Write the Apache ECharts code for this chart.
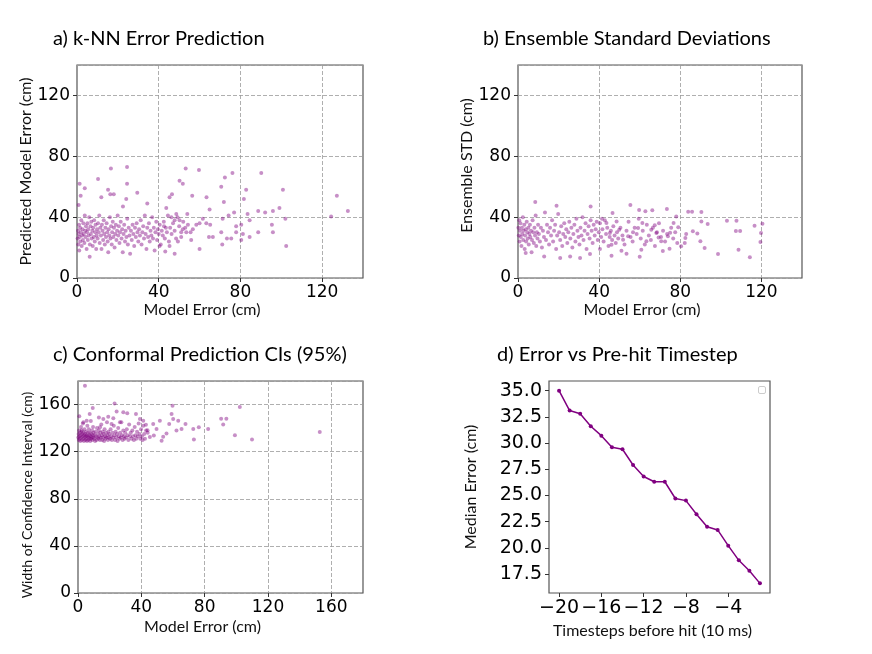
<!DOCTYPE html>
<html>
<head>
<meta charset="utf-8">
<script src="https://cdn.jsdelivr.net/npm/echarts@6/dist/echarts.min.js"></script>
<style>
  html, body { margin: 0; padding: 0; background: #fff; }
  #main { width: 872px; height: 654px; }
</style>
</head>
<body>
<div id="main"></div>
<script>
// a) k-NN: [model error, predicted error]
var knnPoints = [
  [0.3,26],[0.5,31],[0.6,22],[0.8,29],[1.0,35],[1.1,18],[1.3,27],[1.5,33],[1.6,24],[1.9,30],[2.1,38],[2.3,21],[2.5,28],[2.7,32],[2.9,25],[3.1,36],[3.3,29],[3.6,23],[3.8,41],[4.0,31],[4.2,27],[4.4,34],[4.7,19],[4.9,30],
  [5.1,36],[5.3,25],[5.5,32],[5.7,28],[6.0,40],[6.2,14],[6.3,22],[6.6,34],[6.8,29],[7.0,37],[7.2,26],[7.5,31],[7.7,21],[7.9,33],[8.2,27],[8.4,38],[8.7,24],[8.9,30],[9.1,35],[9.4,19],[9.6,28],[9.8,32],
  [10.1,26],[10.3,36],[10.6,30],[10.9,41],[11.1,23],[11.4,33],[11.7,28],[12.0,19],[12.2,35],[12.5,31],[12.8,25],[13.1,38],[13.3,29],[13.6,22],[13.9,33],[14.2,27],[14.5,36],[14.8,30],
  [15.0,24],[15.3,17],[15.5,32],[15.8,28],[16.1,40],[16.4,26],[16.7,34],[17.0,22],[17.2,30],[17.5,37],[17.8,27],[18.1,33],[18.4,20],[18.7,29],[19.0,35],[19.3,25],[19.6,31],[19.9,41],
  [20.2,28],[20.5,34],[20.8,23],[21.1,30],[21.4,37],[21.8,26],[22.1,32],[22.4,17],[22.8,29],[23.1,35],[23.5,24],[23.8,31],[24.2,27],[24.6,39],[24.9,22],
  [25.3,33],[25.7,28],[26.0,16],[26.4,31],[26.8,25],[27.2,35],[27.6,29],[28.0,21],[28.4,33],[28.8,27],[29.2,36],[29.6,30],
  [30.0,24],[30.4,32],[30.8,28],[31.2,38],[31.6,22],[32.0,30],[32.4,34],[32.8,26],[33.2,41],[33.6,29],[34.0,19],[34.4,33],[34.8,27],
  [35.2,36],[35.6,24],[36.0,31],[36.4,28],[36.8,40],[37.2,26],[37.6,33],[38.0,18],[38.4,30],[38.8,37],[39.2,25],[39.6,32],
  [40.0,29],[40.5,35],[41.0,22],[41.5,31],[42.0,28],[42.5,37],[43.0,26],[43.5,33],[44.0,30],[44.5,41],[45.0,24],
  [45.6,33],[46.3,29],[47.0,36],[47.8,31],[48.5,26],[49.2,40],[50.0,34],[51.0,30],[52.0,37],[53.0,33],[54.0,42],
  [1.3,62],[1.8,54],[0.8,48],[3.8,59],[10.3,65],[16.6,72],[24.5,73],[24.5,62],[15.2,58],[16.3,55],[18,55],[29.5,56],[24.1,52],[11.9,53],[34.4,49],[22.5,47],
  [53.2,72],[59.7,71],[50.2,64],[51.8,62],[45.3,53],[46.5,55],[56.4,54],[63.4,53],[72.4,66],[76.1,69],[70.6,60],[71.9,50],[81.7,52],[82.8,58],[90.2,69],
  [100.8,58],[99.1,46],[88.7,44],[92.1,43],[95.9,44],[83.5,42],[84.5,38],[102,39],[102.4,21],[95.4,35],[95.9,30],[88.7,30],[84.5,27],[81.2,29],[77.9,30],
  [77.9,34],[80.4,35],[76.9,43],[74.2,41],[71.3,39],[70.6,30],[71.1,22],[73.4,26],[75.5,26],[80.4,25],[124.4,40.5],[127.2,54],[132.6,44],
  [60,19],[55.6,30],[55.9,25],[56.7,32],[58.4,35],[60,36],[61.6,39],[63.3,36],[64.9,45],[65.2,35],[66.5,27],[64.6,27],
  [47.8,16],[43.2,17.5],[45.3,21],[40.4,21],[49.4,24],[51,27],[51.8,32],[53.5,30],[54.3,35],[50.2,38],[48.6,42],[43.7,46],[46.2,40],[47.8,38],[42.6,34]
];

// b) ensemble: [model error, ensemble std]
var ensPoints = [
  [0.2,33],[0.4,28],[0.6,38],[0.8,24],[1.0,31],[1.2,36],[1.4,27],[1.7,21],[1.9,33],[2.1,29],[2.4,40],[2.6,25],[2.8,31],[3.1,35],[3.3,19],[3.5,28],[3.8,32],[4.0,24],[4.3,37],[4.6,30],[4.8,26],
  [5.1,33],[5.3,22],[5.6,29],[5.9,35],[6.1,27],[6.4,31],[6.7,17],[6.9,25],[7.2,38],[7.5,30],[7.8,23],[8.1,33],[8.4,28],[8.7,41],[9.0,21],[9.3,30],[9.6,26],[9.9,35],
  [10.3,29],[10.8,24],[11.3,33],[11.8,20],[12.3,31],[12.8,27],[13.3,43],[13.8,25],[14.3,35],[14.8,30],[15.3,22],[15.8,33],[16.3,28],[16.8,38],[17.3,24],[17.8,31],[18.3,35],[18.8,19],[19.3,28],[19.8,42],
  [20.3,30],[20.8,25],[21.3,34],[21.8,21],[22.3,29],[22.8,36],[23.3,27],[23.8,32],[24.3,23],[24.8,30],[25.3,37],[25.8,26],[26.3,33],[26.8,20],[27.3,29],[27.8,35],[28.3,24],[28.8,39],[29.3,31],[29.8,27],
  [30.3,22],[30.8,33],[31.3,28],[31.8,40],[32.3,25],[32.8,31],[33.3,36],[33.8,19],[34.3,29],[34.8,34],[35.3,26],[35.8,38],[36.3,31],[36.8,23],[37.3,35],[37.8,28],[38.3,32],[38.8,37],[39.3,25],[39.8,30],
  [40.4,36],[41.0,27],[41.6,32],[42.2,24],[42.8,38],[43.4,29],[44.0,33],[44.6,21],[45.2,27],[45.8,31],[46.4,25],[47.0,34],[47.6,28],[48.2,23],[48.8,30],[49.4,26],
  [50.5,33],[51.5,28],[52.5,22],[53.5,31],[54.5,37],[55.5,27],[56.5,24],[57.5,33],[58.5,29],[59.5,39],[60.5,26],[61.5,31],[62.5,22],[63.5,35],[64.5,28],[65.5,25],[66.5,33],[67.5,21],[68.5,30],[69.5,36],[70.5,27],[71.5,31],[72.5,24],[73.5,29],[75.5,33],[76.5,26],[77.5,30],[78.5,23],
  [8.5,50],[19,47.5],[35.8,47],[55.4,48],[59.7,44.7],[62.8,43.8],[66.2,44.5],[73.4,45.3],[83.9,43.6],[85.8,43.6],[90.4,43.4],[103,37.7],[107.7,37.7],[116.6,34.4],[120.5,35.7],[119.8,29.6],[119.5,23.6],
  [109.5,30.9],[107.4,30.9],[108.7,18.6],[114.3,13.6],[98.6,15.8],[92,19.7],[93.5,35.5],[90.4,37.2],[88.4,29.3],[89.9,24.1],[86.2,30.7],[82.9,28.9],[82.5,26.3],[82.2,23],[80.4,20.8],[79,33.3],[78,40.5],[76.7,36.1],
  [75,29.8],[73.9,27.4],[74.7,19.3],[71.4,17.7],[70.6,24.1],[69.3,26.7],[68.2,29.6],[67.4,34.6],[65.7,31.7],[63.3,24.1],[60,14],[60.8,18.6],[59.2,32.8],[61.3,36.1],[56.7,30],[54.3,27.4],[53.5,16],[51,17.9],
  [51.8,25.2],[49.9,31.7],[48.6,37.2],[46.6,42.7],[43.6,36.1],[45.3,29.6],[46.1,21.9],[46.1,14.7],[40.4,19],[41.4,39],[30.6,13.1],[25.7,14.2],[20.8,13.1],[12.9,14.2],[3.8,16.4],[35.5,15.8]
];

// c) conformal: [model error, CI width]
var confPoints = [
  [0.2,132],[0.4,135],[0.5,130],[0.7,138],[0.9,133],[1.1,131],[1.3,136],[1.5,129],[1.7,134],[1.9,141],[2.1,132],[2.3,137],[2.5,130],[2.7,135],[2.9,133],[3.1,144],[3.3,131],[3.5,136],[3.7,129],[3.9,134],[4.1,139],[4.3,132],[4.5,135],[4.7,130],[4.9,133],
  [5.1,137],[5.3,131],[5.5,134],[5.7,129],[5.9,142],[6.1,133],[6.3,136],[6.5,130],[6.7,132],[6.9,139],[7.1,134],[7.3,131],[7.5,136],[7.7,129],[7.9,133],[8.1,146],[8.3,131],[8.5,135],[8.7,132],[8.9,138],[9.1,130],[9.3,134],[9.5,141],[9.7,132],[9.9,136],
  [10.2,131],[10.5,134],[10.8,129],[11.1,137],[11.4,133],[11.7,130],[12.0,140],[12.3,132],[12.6,135],[12.9,131],[13.2,138],[13.5,133],[13.8,130],[14.1,136],[14.4,132],[14.7,143],[15.0,134],[15.3,130],[15.6,137],[15.9,132],[16.2,135],[16.5,129],[16.8,139],[17.1,133],[17.4,131],[17.7,136],[18.0,132],[18.3,145],[18.6,134],[18.9,130],[19.2,137],[19.5,132],[19.8,135],
  [20.2,131],[20.6,139],[21.0,133],[21.4,130],[21.8,136],[22.2,132],[22.6,142],[23.0,134],[23.4,130],[23.8,137],[24.2,132],[24.6,135],[25.0,129],[25.4,140],[25.8,133],[26.2,131],[26.6,136],[27.0,132],[27.4,145],[27.8,134],[28.2,130],[28.6,138],[29.0,133],[29.4,131],[29.8,136],
  [30.3,132],[30.8,139],[31.3,134],[31.8,130],[32.3,143],[32.8,133],[33.3,136],[33.8,131],[34.3,138],[34.8,133],[35.3,130],[35.8,141],[36.3,134],[36.8,131],[37.3,137],[37.8,133],[38.3,144],[38.8,135],[39.3,131],[39.8,139],[40.3,133],[40.8,130],[41.3,142],[41.8,135],[42.3,131],[43.0,138],[44.0,136],
  [4.4,176],[23.1,161],[9.3,157],[7.4,152],[0.8,150],[59.7,159],[102.2,158],[90.4,148],[93.7,148],[91.7,143],[99.1,134],[109.9,130.4],[152.7,136.6],[82.2,139.3],[76.3,140.7],[72.8,139.3],[73.2,130.4],
  [67.9,143.5],[65.4,139.3],[62.2,137.9],[63.3,146.3],[60.1,147.7],[59.1,152],[57.6,143.5],[53.8,132.6],[55.9,135.4],[52.8,129.2],[51.7,146.3],[49.6,139.3],[47.5,143.5],[47.9,133.7],[45.4,132.4],[43.9,138.2],
  [42.9,142.8],[41.2,146.3],[39.1,147.7],[36.6,152],[31.1,152.6],[28.6,153.4],[24.4,154],[22.3,148.3],[19.1,149.7],[16,147.7],[13.2,149.1],[21.2,143.5],[26.5,144.9],[13.9,140.7],[5.5,146.3],[3.4,144.9],[2.3,138.2]
];

// d) median error per timestep
var timesteps = [-20,-19,-18,-17,-16,-15,-14,-13,-12,-11,-10,-9,-8,-7,-6,-5,-4,-3,-2,-1];
var medianErr = [35.0,33.1,32.8,31.6,30.7,29.6,29.4,27.9,26.8,26.3,26.3,24.7,24.5,23.2,22.0,21.7,20.2,18.8,17.8,16.6];
var dXTicks = [-20,-16,-12,-8,-4];
var dYTicks = [17.5,20,22.5,25,27.5,30,32.5,35];

var purple = '#800080';
var dotColor = 'rgba(128,0,128,0.55)';
var titleFont = { fontFamily: 'Lato', fontSize: 20, fontWeight: 'normal', color: '#000' };

function tickFont(size) {
  return { fontFamily: 'DejaVu Sans', fontSize: size, color: '#000' };
}

// pad shifts the name along the axis (matplotlib labels sit a bit off centre here)
function nameFont(size, pad) {
  return { fontFamily: 'Lato', fontSize: size, color: '#111', padding: pad || 0 };
}

function splitDash() {
  return { show: true, lineStyle: { color: '#9a9a9a', width: 0.8, type: [4, 2] } };
}

// scatter axes: min 0, fixed max, ticks every 40
function valAxis(idx, max, name, gap, isY, size, pad) {
  return {
    type: 'value', gridIndex: idx, min: 0, max: max, interval: 40,
    name: name, nameLocation: 'middle', nameGap: gap,
    nameTextStyle: nameFont(size, pad),
    axisLine: { show: false },
    axisTick: { show: true, length: 4, lineStyle: { color: '#333' } },
    axisLabel: Object.assign({ margin: isY ? 7 : 6, showMaxLabel: false }, tickFont(17)),
    splitLine: splitDash()
  };
}

function withMinus(v) {
  return String(v).replace('-', '\u2212');
}

var gridBox = { show: true, borderColor: '#555', borderWidth: 1.2, backgroundColor: 'transparent' };

var option = {
  animation: false,
  title: [
    { text: 'a) k-NN Error Prediction', left: 48, top: 24, textStyle: titleFont },
    { text: 'b) Ensemble Standard Deviations', left: 478, top: 24, textStyle: titleFont },
    { text: 'c) Conformal Prediction CIs (95%)', left: 48, top: 340, textStyle: titleFont },
    { text: 'd) Error vs Pre-hit Timestep', left: 492, top: 340, textStyle: titleFont }
  ],
  grid: [
    Object.assign({ left: 77, top: 65, width: 286, height: 213 }, gridBox),
    Object.assign({ left: 518, top: 65, width: 284, height: 213 }, gridBox),
    Object.assign({ left: 78, top: 381, width: 285, height: 212 }, gridBox),
    Object.assign({ left: 549, top: 381, width: 221, height: 212 }, gridBox)
  ],
  xAxis: [
    valAxis(0, 140, 'Model Error (cm)', 24, false, 16, [0, 36, 0, 0]),
    valAxis(1, 140, 'Model Error (cm)', 24, false, 16, [0, 36, 0, 0]),
    valAxis(2, 180, 'Model Error (cm)', 26, false, 16, [0, 36, 0, 0]),
    {
      type: 'value', gridIndex: 3, min: -20.95, max: -0.05,
      name: 'Timesteps before hit (10 ms)', nameLocation: 'middle', nameGap: 30,
      nameTextStyle: nameFont(16, [0, 14, 0, 0]),
      axisLine: { show: false },
      axisTick: { show: true, length: 4, customValues: dXTicks, lineStyle: { color: '#333' } },
      axisLabel: Object.assign({ margin: 6, customValues: dXTicks, formatter: withMinus }, tickFont(19)),
      splitLine: { show: false }
    }
  ],
  yAxis: [
    valAxis(0, 140, 'Predicted Model Error (cm)', 38, true, 16),
    valAxis(1, 140, 'Ensemble STD (cm)', 38, true, 16, [0, 0, 0, 12]),
    valAxis(2, 180, 'Width of Confidence Interval (cm)', 41, true, 14, [0, 16, 0, 0]),
    {
      type: 'value', gridIndex: 3, min: 15.68, max: 35.92,
      name: 'Median Error (cm)', nameLocation: 'middle', nameGap: 70, nameTextStyle: nameFont(16),
      axisLine: { show: false },
      axisTick: { show: true, length: 4, customValues: dYTicks, lineStyle: { color: '#333' } },
      axisLabel: Object.assign({ margin: 7, customValues: dYTicks, formatter: function (v) { return v.toFixed(1); } }, tickFont(19)),
      splitLine: { show: false }
    }
  ],
  series: [
    { type: 'scatter', xAxisIndex: 0, yAxisIndex: 0, data: knnPoints, symbolSize: 4, itemStyle: { color: dotColor } },
    { type: 'scatter', xAxisIndex: 1, yAxisIndex: 1, data: ensPoints, symbolSize: 4, itemStyle: { color: dotColor } },
    { type: 'scatter', xAxisIndex: 2, yAxisIndex: 2, data: confPoints, symbolSize: 4, itemStyle: { color: dotColor } },
    {
      type: 'line', xAxisIndex: 3, yAxisIndex: 3,
      data: timesteps.map(function (t, i) { return [t, medianErr[i]]; }),
      symbol: 'circle', symbolSize: 4, showSymbol: true,
      lineStyle: { color: purple, width: 1.5 }, itemStyle: { color: purple }
    }
  ],
  // empty legend frame in panel d
  graphic: [
    { type: 'rect', left: 758, top: 386, shape: { width: 7, height: 7, r: 1.5 }, style: { fill: '#fff', stroke: '#ccc', lineWidth: 1 } }
  ]
};

var chart = echarts.init(document.getElementById('main'));
chart.setOption(option);
</script>
</body>
</html>
